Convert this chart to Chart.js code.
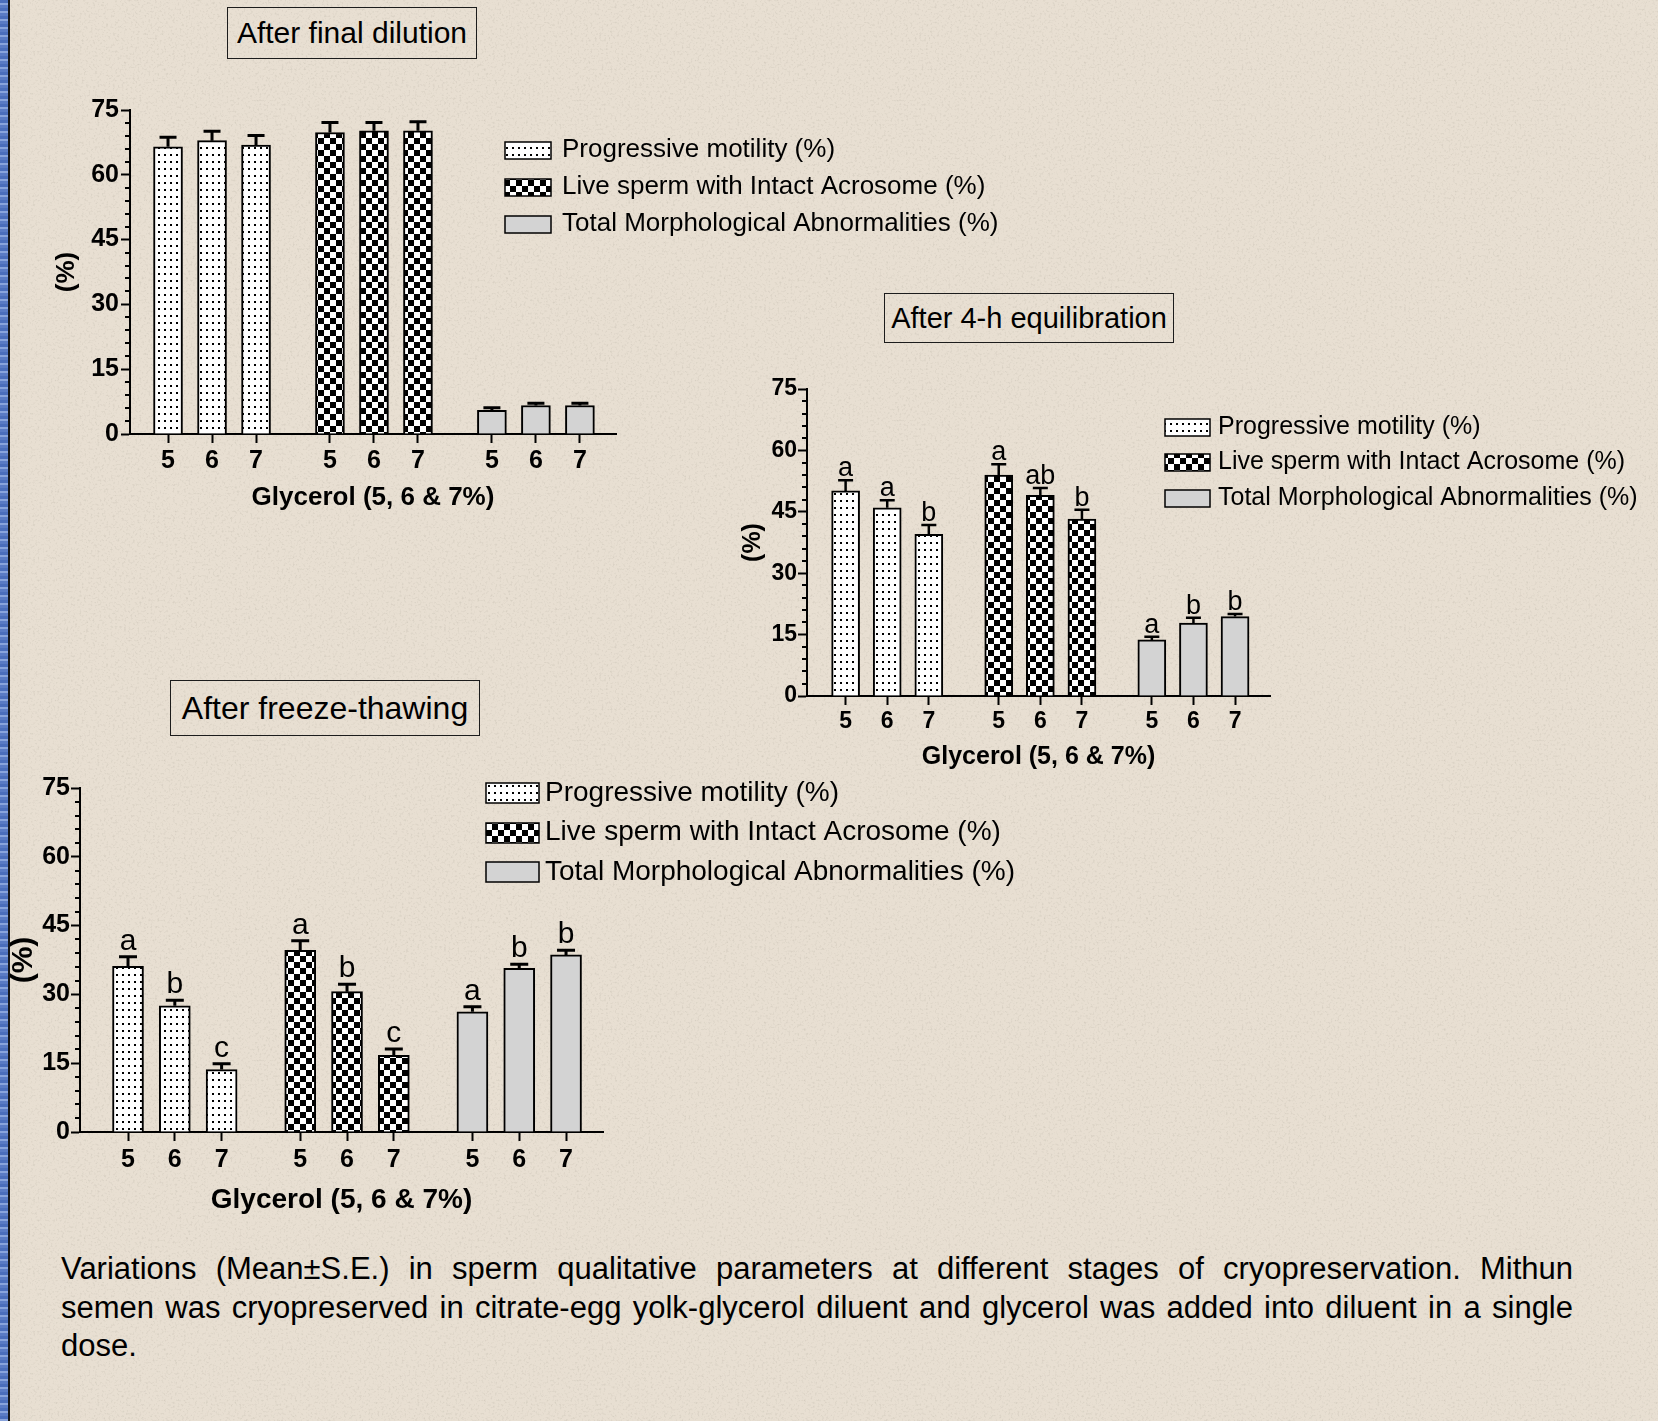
<!DOCTYPE html>
<html>
<head>
<meta charset="utf-8">
<title>Sperm qualitative parameters during cryopreservation</title>
<script src="https://cdn.jsdelivr.net/npm/chart.js@4.4.1/dist/chart.umd.min.js"></script>
<style>
  html, body { margin: 0; padding: 0; }
  body {
    width: 1658px; height: 1421px; position: relative; overflow: hidden;
    background-color: #e8dfd2; color: #000;
    background-image: url("data:image/svg+xml;utf8,<svg xmlns='http://www.w3.org/2000/svg' width='320' height='320'><filter id='n'><feTurbulence type='fractalNoise' baseFrequency='0.45' numOctaves='2' stitchTiles='stitch'/><feColorMatrix values='0 0 0 0 0.6 0 0 0 0 0.55 0 0 0 0 0.47 0 0 0 1.6 -0.82'/></filter><rect width='320' height='320' filter='url(%23n)'/></svg>");
    font-family: 'Liberation Sans', Arial, sans-serif;
  }
  .edge {
    position: absolute; left: 0; top: 0; width: 8px; height: 100%;
    background: repeating-linear-gradient(180deg, #4b6ebc 0 3px, #88a3dc 3px 5px, #5a7bc5 5px 8px);
    border-right: 2px solid #141414;
  }
  canvas { position: absolute; }
  .stage {
    position: absolute; box-sizing: border-box; border: 1.5px solid #1c1c1c;
    display: flex; align-items: center; justify-content: center; white-space: nowrap;
  }
  .caption { position: absolute; left: 61px; top: 1250px; width: 1512px; font-size: 31px; line-height: 38.7px; }
  .caption div { text-align: justify; text-align-last: justify; }
  .caption div:last-child { text-align-last: left; }
</style>
</head>
<body>
<div class="edge"></div>

<div class="stage" style="left:227px; top:7px; width:250px; height:52px; font-size:30px;">After final dilution</div>
<div class="stage" style="left:884px; top:293px; width:290px; height:50px; font-size:29px;">After 4-h equilibration</div>
<div class="stage" style="left:170px; top:680px; width:310px; height:56px; font-size:32px;">After freeze-thawing</div>

<canvas id="dilution"></canvas>
<canvas id="equilibration"></canvas>
<canvas id="thawing"></canvas>

<div class="caption">
  <div>Variations (Mean±S.E.) in sperm qualitative parameters at different stages of cryopreservation. Mithun</div>
  <div>semen was cryopreserved in citrate-egg yolk-glycerol diluent and glycerol was added into diluent in a single</div>
  <div>dose.</div>
</div>

<script>
const doseLabels = ['5', '6', '7'];
const seriesNames = [
    'Progressive motility (%)',
    'Live sperm with Intact Acrosome (%)',
    'Total Morphological Abnormalities (%)'
];
const yTicks = [0, 15, 30, 45, 60, 75];

// after final dilution
const dilutionMotility = [66.5, 67.9, 66.9];
const dilutionMotilitySE = [2.2, 2.2, 2.2];
const dilutionAcrosome = [69.8, 70.2, 70.2];
const dilutionAcrosomeSE = [2.3, 1.9, 2.1];
const dilutionAbnormal = [5.5, 6.6, 6.6];
const dilutionAbnormalSE = [0.6, 0.5, 0.5];

// after 4-h equilibration
const equilMotility = [50.1, 46.0, 39.5];
const equilMotilitySE = [2.6, 1.8, 2.3];
const equilMotilityGroups = ['a', 'a', 'b'];
const equilAcrosome = [54.0, 49.0, 43.2];
const equilAcrosomeSE = [2.6, 1.8, 2.3];
const equilAcrosomeGroups = ['a', 'ab', 'b'];
const equilAbnormal = [13.7, 17.8, 19.4];
const equilAbnormalSE = [0.8, 1.3, 0.65];
const equilAbnormalGroups = ['a', 'b', 'b'];

// after freeze-thawing
const thawMotility = [36.1, 27.5, 13.6];
const thawMotilitySE = [2.1, 1.2, 1.3];
const thawMotilityGroups = ['a', 'b', 'c'];
const thawAcrosome = [39.6, 30.6, 16.7];
const thawAcrosomeSE = [2.1, 1.6, 1.4];
const thawAcrosomeGroups = ['a', 'b', 'c'];
const thawAbnormal = [26.2, 35.7, 38.6];
const thawAbnormalSE = [1.1, 0.9, 1.0];
const thawAbnormalGroups = ['a', 'b', 'b'];

const FONT = "'Liberation Sans', Arial, sans-serif";
const GROUP_STEP = 3.68;   // distance between parameter groups, in bar slots

Chart.defaults.font.family = FONT;
Chart.defaults.color = '#000';

function dotPattern() {
    const c = document.createElement('canvas');
    c.width = 6; c.height = 7;
    const g = c.getContext('2d');
    g.fillStyle = '#fff';
    g.fillRect(0, 0, 6, 7);
    g.fillStyle = '#000';
    g.fillRect(2, 3, 2, 2);
    return g.createPattern(c, 'repeat');
}

function checkerPattern() {
    const c = document.createElement('canvas');
    c.width = 12; c.height = 12;
    const g = c.getContext('2d');
    g.fillStyle = '#fff';
    g.fillRect(0, 0, 12, 12);
    g.fillStyle = '#000';
    g.fillRect(0, 0, 6, 6);
    g.fillRect(6, 6, 6, 6);
    return g.createPattern(c, 'repeat');
}

const fills = [dotPattern(), checkerPattern(), '#d3d3d3'];

// standard-error whiskers (upper half only) with the significance letters above
const errorBarPlugin = {
    id: 'errorBars',
    afterDatasetsDraw(chart, args, opts) {
        const { ctx } = chart;
        const yScale = chart.scales.y;
        ctx.save();
        ctx.strokeStyle = '#000';
        ctx.fillStyle = '#000';
        ctx.lineWidth = opts.lineWidth;
        ctx.font = `${opts.letterSize}px ${FONT}`;
        ctx.textAlign = 'center';
        ctx.textBaseline = 'alphabetic';
        chart.data.datasets.forEach((ds, i) => {
            const meta = chart.getDatasetMeta(i);
            meta.data.forEach((bar, j) => {
                const top = yScale.getPixelForValue(ds.data[j].y + ds.errors[j]);
                ctx.beginPath();
                ctx.moveTo(bar.x, bar.y);
                ctx.lineTo(bar.x, top);
                ctx.moveTo(bar.x - opts.capWidth / 2, top);
                ctx.lineTo(bar.x + opts.capWidth / 2, top);
                ctx.stroke();
                if (ds.letters) {
                    ctx.fillText(ds.letters[j], bar.x, top - opts.letterGap);
                }
            });
        });
        ctx.restore();
    }
};

// small unlabelled ticks between the labelled ones on the y axis
const minorTickPlugin = {
    id: 'minorTicks',
    afterDraw(chart, args, opts) {
        const { ctx } = chart;
        const y = chart.scales.y;
        const left = chart.chartArea.left;
        ctx.save();
        ctx.strokeStyle = '#000';
        ctx.lineWidth = 2;
        for (let v = y.min; v <= y.max; v += opts.step) {
            if (v % opts.majorStep === 0) continue;
            const py = Math.round(y.getPixelForValue(v));
            ctx.beginPath();
            ctx.moveTo(left - opts.length, py);
            ctx.lineTo(left, py);
            ctx.stroke();
        }
        ctx.restore();
    }
};

// legend drawn beside the plot, overlapping the empty upper right of the axes
const sideLegendPlugin = {
    id: 'sideLegend',
    afterDraw(chart, args, opts) {
        const { ctx } = chart;
        ctx.save();
        ctx.font = `${opts.fontSize}px ${FONT}`;
        ctx.textAlign = 'left';
        ctx.textBaseline = 'middle';
        chart.data.datasets.forEach((ds, i) => {
            const cy = opts.y + i * opts.rowGap;
            const bx = opts.x, by = Math.round(cy - opts.boxHeight / 2);
            ctx.fillStyle = ds.backgroundColor;
            ctx.fillRect(bx, by, opts.boxWidth, opts.boxHeight);
            ctx.strokeStyle = '#000';
            ctx.lineWidth = 1.5;
            ctx.strokeRect(bx, by, opts.boxWidth, opts.boxHeight);
            ctx.fillStyle = '#000';
            ctx.fillText(ds.label, opts.textX, cy);
        });
        ctx.restore();
    }
};

function barPositions() {
    const out = [];
    seriesNames.forEach((name, g) => {
        doseLabels.forEach((d, k) => out.push(g * GROUP_STEP + k));
    });
    return out;
}

function buildPanel(id, layout, series) {
    const canvas = document.getElementById(id);
    const cv = layout.canvas;
    canvas.width = cv.width;
    canvas.height = cv.height;
    canvas.style.left = cv.left + 'px';
    canvas.style.top = cv.top + 'px';
    canvas.style.width = cv.width + 'px';
    canvas.style.height = cv.height + 'px';

    const L = layout.area.left - cv.left;
    const R = layout.area.right - cv.left;
    const T = layout.area.top - cv.top;
    const B = layout.area.bottom - cv.top;
    const yLine = layout.yTitle.size * 1.2;
    const xLine = layout.xTitle.size * 1.2;
    const padLeft = layout.yTitle.centerX - cv.left - yLine / 2;
    const yAxisWidth = L - padLeft;
    const xAxisHeight = layout.xTitle.centerY - layout.area.bottom + xLine / 2;
    const padBottom = cv.height - B - xAxisHeight;

    const positions = barPositions();
    const datasets = series.map((s, g) => ({
        label: seriesNames[g],
        data: s.values.map((v, k) => ({ x: g * GROUP_STEP + k, y: v })),
        errors: s.se,
        letters: s.letters,
        backgroundColor: fills[g],
        borderColor: '#000',
        borderWidth: 2,
        barThickness: layout.barThickness,
        grouped: false
    }));

    const tickFont = { size: layout.tickSize, weight: 'bold' };
    const lg = layout.legend;

    return new Chart(canvas, {
        type: 'bar',
        data: { datasets },
        options: {
            responsive: false,
            maintainAspectRatio: false,
            devicePixelRatio: 1,
            animation: false,
            events: [],
            layout: { padding: { left: padLeft, top: T, right: cv.width - R, bottom: padBottom } },
            scales: {
                x: {
                    type: 'linear',
                    min: layout.xMin,
                    max: layout.xMax,
                    offset: false,
                    afterBuildTicks: (scale) => { scale.ticks = positions.map(v => ({ value: v })); },
                    afterFit: (scale) => { scale.height = xAxisHeight; },
                    ticks: {
                        autoSkip: false,
                        maxRotation: 0,
                        padding: layout.xTickPad,
                        font: tickFont,
                        color: '#000',
                        callback: (value, index) => doseLabels[index % doseLabels.length]
                    },
                    grid: { drawOnChartArea: false, offset: false, tickLength: 9, tickWidth: 2, tickColor: '#000' },
                    border: { color: '#000', width: 2 },
                    title: {
                        display: true,
                        text: 'Glycerol (5, 6 & 7%)',
                        color: '#000',
                        padding: 0,
                        font: { size: layout.xTitle.size, weight: 'bold' }
                    }
                },
                y: {
                    min: 0,
                    max: 75,
                    afterBuildTicks: (scale) => { scale.ticks = yTicks.map(v => ({ value: v })); },
                    afterFit: (scale) => { scale.width = yAxisWidth; },
                    ticks: { padding: layout.yTickPad, font: tickFont, color: '#000' },
                    grid: { drawOnChartArea: false, tickLength: 9, tickWidth: 2, tickColor: '#000' },
                    border: { color: '#000', width: 2 },
                    title: {
                        display: true,
                        text: '(%)',
                        color: '#000',
                        padding: 0,
                        font: { size: layout.yTitle.size, weight: 'bold' }
                    }
                }
            },
            plugins: {
                legend: { display: false },
                tooltip: { enabled: false },
                errorBars: {
                    lineWidth: layout.whiskerWidth,
                    capWidth: layout.capWidth,
                    letterSize: layout.letterSize,
                    letterGap: layout.letterGap
                },
                minorTicks: { step: 3, majorStep: 15, length: 5 },
                sideLegend: {
                    x: lg.x - cv.left,
                    y: lg.y - cv.top,
                    rowGap: lg.rowGap,
                    boxWidth: lg.boxWidth,
                    boxHeight: lg.boxHeight,
                    textX: lg.textX - cv.left,
                    fontSize: lg.fontSize
                }
            }
        },
        plugins: [errorBarPlugin, minorTickPlugin, sideLegendPlugin]
    });
}

buildPanel('dilution', {
    canvas: { left: 0, top: 60, width: 1000, height: 480 },
    area: { left: 130, right: 616, top: 110, bottom: 434 },
    xMin: -0.864, xMax: 10.18,
    barThickness: 29,
    tickSize: 25, xTickPad: 3, yTickPad: 2,
    xTitle: { size: 26, centerY: 498 },
    yTitle: { size: 26, centerX: 67 },
    whiskerWidth: 3, capWidth: 17, letterSize: 28, letterGap: 5,
    legend: { x: 505, y: 150, rowGap: 37, boxWidth: 46, boxHeight: 17, textX: 562, fontSize: 26 }
}, [
    { values: dilutionMotility, se: dilutionMotilitySE },
    { values: dilutionAcrosome, se: dilutionAcrosomeSE },
    { values: dilutionAbnormal, se: dilutionAbnormalSE }
]);

buildPanel('equilibration', {
    canvas: { left: 700, top: 350, width: 958, height: 430 },
    area: { left: 807, right: 1270, top: 389, bottom: 696 },
    xMin: -0.928, xMax: 10.2,
    barThickness: 28,
    tickSize: 23, xTickPad: 3, yTickPad: 1,
    xTitle: { size: 25, centerY: 757 },
    yTitle: { size: 25, centerX: 753 },
    whiskerWidth: 2.5, capWidth: 15, letterSize: 27, letterGap: 4,
    legend: { x: 1165, y: 427, rowGap: 35.5, boxWidth: 45, boxHeight: 17, textX: 1218, fontSize: 25 }
}, [
    { values: equilMotility, se: equilMotilitySE, letters: equilMotilityGroups },
    { values: equilAcrosome, se: equilAcrosomeSE, letters: equilAcrosomeGroups },
    { values: equilAbnormal, se: equilAbnormalSE, letters: equilAbnormalGroups }
]);

buildPanel('thawing', {
    canvas: { left: 0, top: 740, width: 1100, height: 480 },
    area: { left: 80, right: 603, top: 788, bottom: 1132 },
    xMin: -1.026, xMax: 10.15,
    barThickness: 31,
    tickSize: 25, xTickPad: 4, yTickPad: 1,
    xTitle: { size: 28, centerY: 1200 },
    yTitle: { size: 30, centerX: 24 },
    whiskerWidth: 3, capWidth: 18, letterSize: 30, letterGap: 7,
    legend: { x: 486, y: 793, rowGap: 39.5, boxWidth: 53, boxHeight: 20, textX: 545, fontSize: 28 }
}, [
    { values: thawMotility, se: thawMotilitySE, letters: thawMotilityGroups },
    { values: thawAcrosome, se: thawAcrosomeSE, letters: thawAcrosomeGroups },
    { values: thawAbnormal, se: thawAbnormalSE, letters: thawAbnormalGroups }
]);
</script>
</body>
</html>
